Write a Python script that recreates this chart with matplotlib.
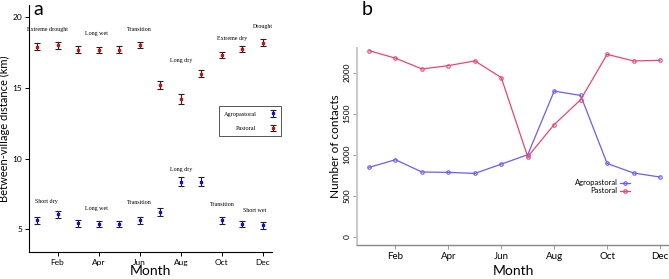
import matplotlib
matplotlib.use("Agg")
import matplotlib.pyplot as plt
import numpy as np

months = np.arange(1, 13)
tick_months = [2, 4, 6, 8, 10, 12]
tick_labels = ["Feb", "Apr", "Jun", "Aug", "Oct", "Dec"]

# Panel a: between-village distance (km)
pastoral_dist = [17.9, 18.0, 17.7, 17.65, 17.7, 18.0, 15.2, 14.2, 16.0, 17.3, 17.75, 18.2]
pastoral_err = [0.25, 0.25, 0.22, 0.22, 0.22, 0.22, 0.25, 0.33, 0.25, 0.22, 0.22, 0.22]
agro_dist = [5.65, 6.08, 5.42, 5.37, 5.4, 5.65, 6.2, 8.35, 8.35, 5.65, 5.4, 5.3]
agro_err = [0.25, 0.25, 0.22, 0.22, 0.22, 0.25, 0.28, 0.32, 0.32, 0.25, 0.22, 0.25]

season_top = ["Extreme drought", "Long wet", "Transition", "Long dry", "Extreme dry", "Drought"]
season_top_x = [1.5, 3.9, 6.0, 8.0, 10.5, 12.0]
season_top_y = [19.15, 18.85, 19.1, 16.9, 18.5, 19.3]
season_bot = ["Short dry", "Long wet", "Transition", "Long dry", "Transition", "Short wet"]
season_bot_x = [1.45, 3.9, 6.0, 8.0, 10.0, 11.6]
season_bot_y = [6.94, 6.48, 6.9, 9.25, 6.76, 6.34]

# Panel b: number of contacts
agro_contacts = [845, 939, 789, 785, 772, 885, 1000, 1775, 1722, 894, 777, 728]
pastoral_contacts = [2268, 2176, 2045, 2085, 2143, 1939, 975, 1367, 1670, 2223, 2142, 2150]

blue_a = "#1010d0"
red_a = "#d01010"
blue_b = "#6f5cf0"
red_b = "#e8476f"

fig = plt.figure(figsize=(6.69, 2.79), dpi=100)

# ---------- Panel a ----------
axa = fig.add_axes([29/669, 27/279, 243/669, 247/279])
e1 = axa.errorbar(months, agro_dist, yerr=agro_err, fmt="s", color=blue_a, ms=1.8,
                  ecolor="#222222", elinewidth=0.8, capsize=2.2, capthick=0.8, label="Agropastoral")
e2 = axa.errorbar(months, pastoral_dist, yerr=pastoral_err, fmt="s", color=red_a, ms=1.8,
                  ecolor="#222222", elinewidth=0.8, capsize=2.2, capthick=0.8, label="Pastoral")
for t, x, y in zip(season_top, season_top_x, season_top_y):
    axa.text(x, y, t, ha="center", va="center", fontsize=4.3, family="Liberation Serif")
for t, x, y in zip(season_bot, season_bot_x, season_bot_y):
    axa.text(x, y, t, ha="center", va="center", fontsize=4.3, family="Liberation Serif")
axa.set_xlim(0.61, 12.44)
axa.set_ylim(3.4, 20.85)
axa.set_xticks(tick_months)
axa.set_xticklabels(tick_labels, fontsize=6, family="Lato")
axa.set_yticks([5, 10, 15, 20])
axa.set_yticklabels(["5", "10", "15", "20"], fontsize=6, family="Lato")
axa.tick_params(axis="both", length=3, width=0.7, pad=2)
for s in ["top", "right"]:
    axa.spines[s].set_visible(False)
for s in ["left", "bottom"]:
    axa.spines[s].set_linewidth(0.8)
axa.set_xlabel("Month", fontsize=10, family="Lato", labelpad=-1)
axa.set_ylabel("Between-village distance (km)", fontsize=8, family="Lato")
axa.yaxis.set_label_coords(-0.078, 0.5)
leg = axa.legend(handles=[e1, e2], loc="upper left", bbox_to_anchor=(0.78, 0.59),
                 markerfirst=False, prop={"family": "Liberation Serif", "size": 4.5},
                 fancybox=False, edgecolor="#555555", framealpha=1, handlelength=1.0,
                 borderpad=0.8, labelspacing=1.5, handletextpad=2.2, borderaxespad=0)
leg.get_frame().set_linewidth(0.7)
fig.text(33/669, 1 - 15/279, "a", fontsize=14, family="Lato")

# ---------- Panel b ----------
axb = fig.add_axes([357/669, 34/279, 312/669, 197/279])
axb.plot(months, agro_contacts, "-o", color=blue_b, lw=0.9, ms=2.5, mfc="none", mew=0.8,
         label="Agropastoral")
axb.plot(months, pastoral_contacts, "-o", color=red_b, lw=0.9, ms=2.5, mfc="none", mew=0.8,
         label="Pastoral")
axb.set_xlim(0.546, 12.34)
axb.set_ylim(-100, 2300)
axb.set_xticks(tick_months)
axb.set_xticklabels(tick_labels, fontsize=7, family="Lato")
axb.set_yticks([0, 500, 1000, 1500, 2000])
axb.set_yticklabels(["0", "500", "1000", "1500", "2000"], fontsize=6, family="Lato",
                    rotation=90, va="center")
axb.tick_params(axis="both", length=3, width=0.7, color="#999999", pad=2)
axb.tick_params(axis="y", pad=1.5)
for s in ["top", "right"]:
    axb.spines[s].set_visible(False)
axb.spines["left"].set_color("#c8c8c8")
axb.spines["left"].set_linewidth(1.4)
axb.spines["bottom"].set_color("#888888")
axb.spines["bottom"].set_linewidth(1.0)
axb.set_xlabel("Month", fontsize=10, family="Lato", labelpad=3)
axb.set_ylabel("Number of contacts", fontsize=8.5, family="Lato")
axb.yaxis.set_label_coords(-0.05, 0.5)
axb.legend(loc="upper left", bbox_to_anchor=(0.68, 0.36), markerfirst=False, frameon=False,
           prop={"family": "Lato", "size": 5.5}, handlelength=1.3, handletextpad=0.4,
           labelspacing=0.1, borderpad=0.2)
fig.text(362/669, 1 - 15/279, "b", fontsize=14, family="Lato")

fig.savefig("out.png", dpi=100)
